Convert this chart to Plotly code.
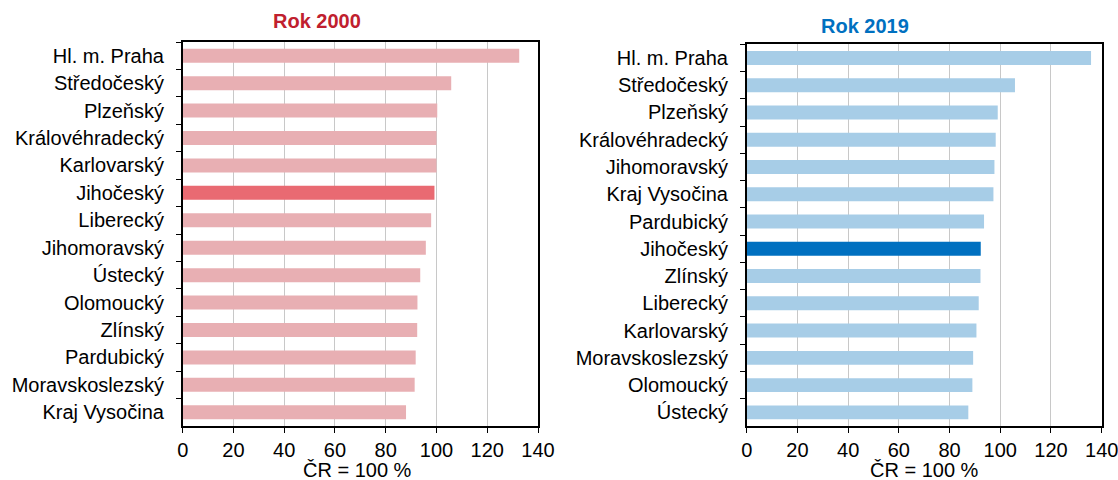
import plotly.graph_objects as go

W, H = 1118, 480

regions_2000 = ["Hl. m. Praha", "Středočeský", "Plzeňský", "Královéhradecký", "Karlovarský",
                "Jihočeský", "Liberecký", "Jihomoravský", "Ústecký", "Olomoucký", "Zlínský",
                "Pardubický", "Moravskoslezský", "Kraj Vysočina"]
values_2000 = [132.6, 105.8, 100.3, 100.0, 100.0, 99.2, 97.9, 95.8, 93.6, 92.5, 92.4, 91.8, 91.4, 88.0]

regions_2019 = ["Hl. m. Praha", "Středočeský", "Plzeňský", "Královéhradecký", "Jihomoravský",
                "Kraj Vysočina", "Pardubický", "Jihočeský", "Zlínský", "Liberecký", "Karlovarský",
                "Moravskoslezský", "Olomoucký", "Ústecký"]
values_2019 = [135.8, 105.8, 99.0, 98.2, 97.7, 97.3, 93.6, 92.3, 92.2, 91.5, 90.6, 89.3, 89.0, 87.4]

highlight = "Jihočeský"
x_ticks = [0, 20, 40, 60, 80, 100, 120, 140]
axis_title = "ČR = 100 %"

FONT = "Liberation Sans, Arial, sans-serif"
FS = 20

c2000 = ["#E96A72" if r == highlight else "#E8AFB3" for r in regions_2000]
c2019 = ["#0070C0" if r == highlight else "#A7CDE7" for r in regions_2019]

fig = go.Figure()
fig.add_trace(go.Bar(y=regions_2000, x=values_2000, orientation="h", marker=dict(color=c2000, line=dict(width=0)),
                     xaxis="x", yaxis="y", showlegend=False))
fig.add_trace(go.Bar(y=regions_2019, x=values_2019, orientation="h", marker=dict(color=c2019, line=dict(width=0)),
                     xaxis="x2", yaxis="y2", showlegend=False))

def px_x(p):
    return p / W

def px_y(p):
    return 1 - p / H

xcommon = dict(range=[0, 140], tickvals=x_ticks, showgrid=True, gridcolor="#C8C8C8", gridwidth=1,
               showline=True, linecolor="black", linewidth=1.5, mirror=True, ticks="outside",
               ticklen=5, tickcolor="black", zeroline=False, automargin=False,
               ticklabeloverflow="allow",
               tickfont=dict(family=FONT, size=FS, color="black"))
ycommon = dict(autorange="reversed", showline=True, linecolor="black", linewidth=1.5, mirror=True,
               ticks="outside", ticklen=5, tickcolor="black", tickson="boundaries", showgrid=False,
               automargin=False, ticklabeloverflow="allow",
               tickfont=dict(family=FONT, size=FS, color="black"), ticklabelstandoff=13)

fig.update_layout(
    width=W, height=H,
    margin=dict(l=0, r=0, t=0, b=0),
    paper_bgcolor="white", plot_bgcolor="white",
    bargap=0.49,
    xaxis=dict(domain=[px_x(182.7), px_x(538)], anchor="y", **xcommon),
    yaxis=dict(domain=[px_y(426), px_y(42)], anchor="x", **ycommon),
    xaxis2=dict(domain=[px_x(746.7), px_x(1101.7)], anchor="y2", **xcommon),
    yaxis2=dict(domain=[px_y(426), px_y(44.3)], anchor="x2", **ycommon),
    annotations=[
        dict(text="<b>Rok 2000</b>", x=px_x(317), y=px_y(21), xref="paper", yref="paper",
             xanchor="center", yanchor="middle", showarrow=False,
             font=dict(family=FONT, size=FS, color="#C0202E")),
        dict(text="<b>Rok 2019</b>", x=px_x(865), y=px_y(26), xref="paper", yref="paper",
             xanchor="center", yanchor="middle", showarrow=False,
             font=dict(family=FONT, size=FS, color="#0070C0")),
        dict(text=axis_title, x=px_x(357.5), y=px_y(470), xref="paper", yref="paper",
             xanchor="center", yanchor="middle", showarrow=False,
             font=dict(family=FONT, size=FS, color="black")),
        dict(text=axis_title, x=px_x(924.5), y=px_y(470), xref="paper", yref="paper",
             xanchor="center", yanchor="middle", showarrow=False,
             font=dict(family=FONT, size=FS, color="black")),
    ],
)

fig.write_html("out.html", config={"displayModeBar": False},
               post_script="document.body.style.margin='0';document.body.style.overflow='hidden';")
